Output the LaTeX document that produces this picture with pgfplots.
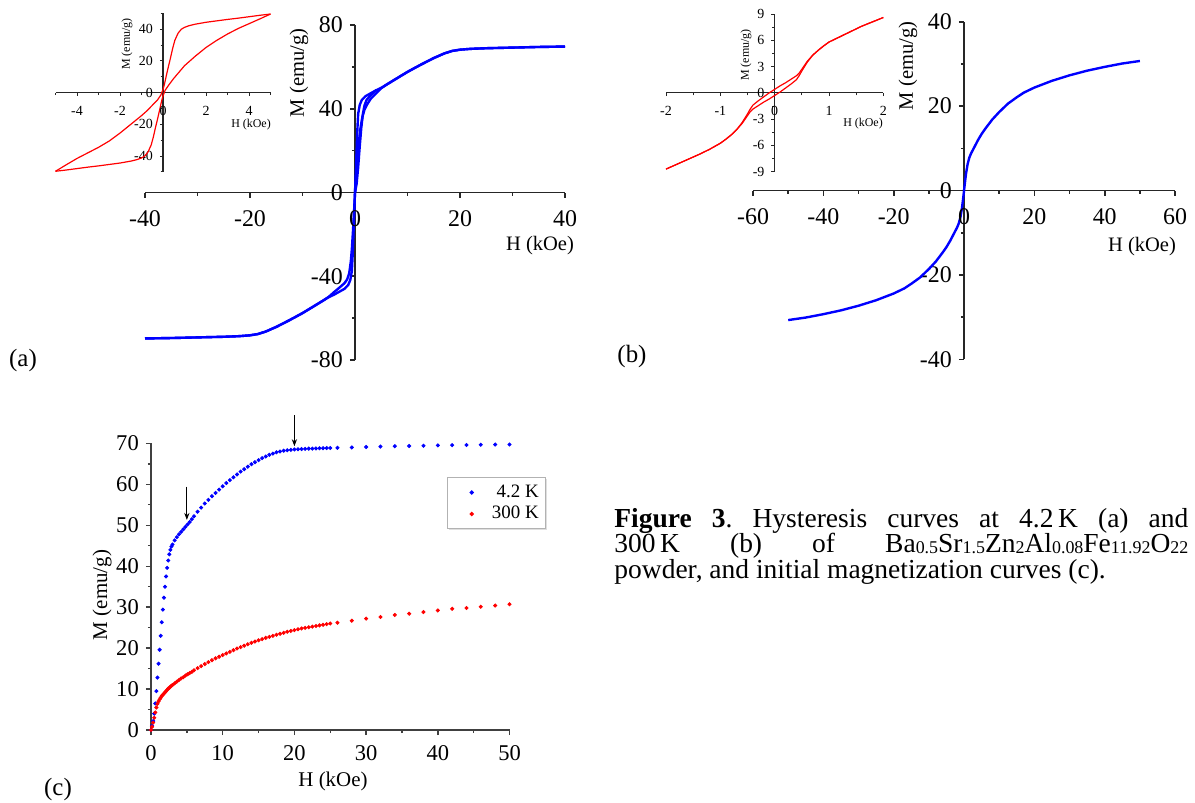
\documentclass[border=0pt]{standalone}
\usepackage{fontspec}
\setmainfont{Liberation Serif}
\usepackage{pgfplots}
\usepackage{pgfplotstable}
\pgfplotsset{compat=1.18}
\usetikzlibrary{arrows.meta,shadows}

\definecolor{loopblue}{RGB}{0,0,255}
\definecolor{loopred}{RGB}{255,0,0}

\newcommand{\fmain}{\fontsize{12}{13}\selectfont}
\newcommand{\flab}{\fontsize{10.3}{12}\selectfont}
\newcommand{\fins}{\fontsize{7}{8}\selectfont}
\newcommand{\finl}{\fontsize{6}{7}\selectfont}
\newcommand{\fc}{\fontsize{11.3}{12}\selectfont}
\newcommand{\fcl}{\fontsize{10.5}{12}\selectfont}
\newcommand{\sub}[1]{\raisebox{-0.12ex}[\height][0pt]{\fontsize{9}{10}\selectfont #1}}

% 4.2 K, full loop (a)
\pgfplotstableread{
H M
40 69.7
35 69.5
30 69.2
25 68.9
22 68.6
20 68.2
18.5 67.6
17 66.4
15 64.2
12.5 61.0
10 57.6
7.5 53.8
6 51.5
5 50.0
4 48.8
3 47.4
2 46.0
1.3 44.2
0.9 41.8
0.6 37.5
0.45 30
0.3 20
0.15 9.5
0 0
-0.2 -10
-0.4 -19
-0.6 -27
-0.8 -33
-1.1 -38.5
-1.5 -41.5
-2 -43.3
-3 -45.5
-4 -47.6
-5 -49.8
-6 -51.5
-7.5 -53.8
-10 -57.6
-12.5 -61.0
-15 -64.2
-17 -66.4
-18.5 -67.6
-20 -68.2
-22 -68.6
-25 -68.9
-30 -69.2
-35 -69.5
-40 -69.7
}\loopAdesc
\pgfplotstableread{
H M
-40 -69.7
-35 -69.5
-30 -69.2
-25 -68.9
-22 -68.6
-20 -68.2
-18.5 -67.6
-17 -66.4
-15 -64.2
-12.5 -61.0
-10 -57.6
-7.5 -53.8
-6 -51.5
-5 -50.0
-4 -48.8
-3 -47.4
-2 -46.0
-1.3 -44.2
-0.9 -41.8
-0.6 -37.5
-0.45 -30
-0.3 -20
-0.15 -9.5
0 0
0.2 8
0.4 15
0.7 23
1.0 30
1.4 36
1.8 39.5
2.3 42
3 44.8
4 47.3
5 49.8
6 51.5
7.5 53.8
10 57.6
12.5 61.0
15 64.2
17 66.4
18.5 67.6
20 68.2
22 68.6
25 68.9
30 69.2
35 69.5
40 69.7
}\loopAasc
\pgfplotstableread{
H M
0 0
0.3 4
0.6 12
0.9 22
1.2 31
1.5 37.5
1.8 41.5
2.2 44.2
3 46.5
4.1 49
}\initA

% 4.2 K, minor loop (inset a)
\pgfplotstableread{
H M
5 49.6
4.5 48.8
4 47.9
3.5 47.0
3 46.2
2.5 45.3
2 44.4
1.5 43.2
1.2 42.2
1 41.2
0.85 40.0
0.7 37.5
0.55 33
0.45 28
0.35 22
0.25 16.4
0.15 10.5
0.07 5.5
0 2
-0.1 -1.5
-0.25 -4.5
-0.5 -8
-0.75 -11.5
-1 -14.5
-1.5 -20
-2 -25.5
-2.5 -30.5
-3 -34.5
-3.5 -38
-4 -41.5
-4.5 -45.5
-5 -49.6
}\insAdesc
\pgfplotstableread{
H M
-5 -49.6
-4.5 -48.8
-4 -47.9
-3.5 -47.0
-3 -46.2
-2.5 -45.3
-2 -44.4
-1.5 -43.2
-1.2 -42.2
-1 -41.2
-0.85 -40.0
-0.7 -37.5
-0.55 -33
-0.45 -28
-0.35 -22
-0.25 -16.4
-0.15 -10.5
-0.07 -5.5
0 -2
0.1 1.5
0.25 4.5
0.5 9
0.75 13
1 17
1.5 23
2 28.5
2.5 33
3 37
3.5 40.5
4 43.5
4.5 46.5
5 49.6
}\insAasc

% 300 K loop (b)
\pgfplotstableread{
H M
-50 -30.7
-45 -30.1
-40 -29.3
-35 -28.4
-30 -27.3
-25 -26.0
-20 -24.4
-17 -23.2
-15 -22.1
-12.5 -20.6
-10 -18.6
-8 -16.8
-6 -14.6
-5 -13.4
-4 -12.0
-3 -10.4
-2 -8.8
-1.5 -7.8
-1 -6.2
-0.6 -4.2
-0.3 -2.2
0 0
0.3 2.2
0.6 4.2
1 6.2
1.5 7.8
2 8.8
3 10.4
4 12.0
5 13.4
6 14.6
8 16.8
10 18.6
12.5 20.6
15 22.1
17 23.2
20 24.4
25 26.0
30 27.3
35 28.4
40 29.3
45 30.1
50 30.7
}\loopB

\pgfplotstableread{
H M
2 8.6
1.8 8.1
1.6 7.6
1.4 7.0
1.2 6.4
1 5.8
0.9 5.35
0.8 4.85
0.7 4.3
0.6 3.6
0.5 2.7
0.45 2.25
0.4 1.95
0.3 1.55
0.2 1.15
0.1 0.8
0 0.4
-0.1 0.0
-0.2 -0.45
-0.3 -0.9
-0.4 -1.4
-0.45 -1.85
-0.5 -2.4
-0.6 -3.4
-0.7 -4.2
-0.8 -4.8
-0.9 -5.3
-1 -5.75
-1.2 -6.45
-1.4 -7.05
-1.6 -7.6
-1.8 -8.15
-2 -8.7
}\insBdesc
\pgfplotstableread{
H M
-2 -8.7
-1.8 -8.15
-1.6 -7.6
-1.4 -7.05
-1.2 -6.45
-1 -5.75
-0.9 -5.3
-0.8 -4.8
-0.7 -4.2
-0.6 -3.5
-0.5 -2.6
-0.45 -2.15
-0.4 -1.85
-0.3 -1.45
-0.2 -1.05
-0.1 -0.7
0 -0.3
0.1 0.1
0.2 0.55
0.3 1.0
0.4 1.5
0.45 1.95
0.5 2.5
0.6 3.5
0.7 4.3
0.8 4.85
0.9 5.35
1 5.8
1.2 6.4
1.4 7.0
1.6 7.6
1.8 8.1
2 8.6
}\insBasc

% initial magnetization curves (c)
\pgfplotstableread{
H M
0 0
0.15 1.0
0.3 2.2
0.45 4.0
0.6 6.5
0.75 9.5
0.9 12.8
1.05 16.2
1.2 19.6
1.35 23.0
1.5 26.3
1.65 29.4
1.8 32.3
1.95 35.0
2.1 37.5
2.25 39.6
2.4 41.4
2.55 42.9
2.7 44.0
2.85 44.8
3.0 45.3
3.3 46.3
3.6 47.1
3.9 47.8
4.2 48.4
4.5 49.0
4.8 49.6
5.1 50.2
5.4 50.8
5.7 51.5
6.0 52.2
6.5 53.3
7.0 54.3
7.5 55.3
8.0 56.2
8.5 57.1
9.0 57.9
9.5 58.7
10.0 59.5
10.5 60.3
11.0 61.0
11.5 61.7
12.0 62.4
12.5 63.1
13.0 63.7
13.5 64.3
14.0 64.9
14.5 65.4
15.0 65.9
15.5 66.4
16.0 66.8
16.5 67.2
17.0 67.5
17.5 67.8
18.0 68.0
18.5 68.2
19.0 68.3
19.5 68.4
20.0 68.5
20.5 68.55
21.0 68.6
21.5 68.65
22.0 68.7
22.5 68.7
23.0 68.75
23.5 68.8
24.0 68.8
24.5 68.85
25.0 68.85
26 68.9
28 69.0
30 69.1
32 69.2
34 69.3
36 69.35
38 69.4
40 69.5
42 69.55
44 69.6
46 69.65
48 69.7
50 69.7
}\initlow
\pgfplotstableread{
H M
0 0
0.15 0.8
0.3 1.8
0.45 3.0
0.6 4.3
0.75 5.5
0.9 6.4
1.05 7.0
1.2 7.5
1.35 7.9
1.5 8.3
1.65 8.6
1.8 8.9
1.95 9.2
2.1 9.5
2.25 9.8
2.4 10.1
2.55 10.3
2.7 10.6
2.85 10.8
3.0 11.0
3.3 11.4
3.6 11.8
3.9 12.2
4.2 12.6
4.5 12.9
4.8 13.3
5.1 13.6
5.4 13.9
5.7 14.2
6.0 14.6
6.5 15.1
7.0 15.6
7.5 16.1
8.0 16.6
8.5 17.05
9.0 17.5
9.5 17.9
10.0 18.3
10.5 18.7
11.0 19.1
11.5 19.5
12.0 19.9
12.5 20.25
13.0 20.6
13.5 20.95
14.0 21.3
14.5 21.6
15.0 21.9
15.5 22.2
16.0 22.5
16.5 22.75
17.0 23.0
17.5 23.25
18.0 23.5
18.5 23.75
19.0 24.0
19.5 24.2
20.0 24.4
20.5 24.6
21.0 24.8
21.5 24.95
22.0 25.1
22.5 25.25
23.0 25.4
23.5 25.55
24.0 25.7
24.5 25.85
25.0 26.0
26 26.2
28 26.7
30 27.2
32 27.6
34 28.1
36 28.4
38 28.8
40 29.2
42 29.6
44 29.8
46 30.1
48 30.4
50 30.7
}\inithigh

\pgfplotsset{
  midaxis/.style={
    scale only axis,
    axis lines=middle,
    axis line style={-, line width=0.8pt, black!85},
    every inner x axis line/.append style={-},
    every inner y axis line/.append style={-},
    tick style={black!85, line width=0.8pt},
    tick align=outside,
    major tick length=2.6bp,
    minor tick length=1.6bp,
    /pgf/number format/assume math mode=true,
    clip=false,
  },
  dotlegend/.style={
    legend image code/.code={\path (0cm,0cm) (0.72cm,0cm); \draw[##1] plot coordinates {(0.36cm,0cm)};},
  },
}

\begin{document}
\frenchspacing
\begin{tikzpicture}[x=0.5bp,y=-0.5bp]
\path[use as bounding box] (0,0) rectangle (1195,802);

% ---------- (a) main
\begin{axis}[midaxis,
  at={(72.5bp,-180bp)}, anchor=south west, width=210bp, height=167.5bp,
  xmin=-40, xmax=40, ymin=-80, ymax=80,
  xtick={-40,-20,0,20,40}, ytick={-80,-40,0,40,80},
  minor xtick={-30,-10,10,30}, minor ytick={-60,-20,20,60},
  tick label style={font=\fmain},
  xticklabel style={yshift=-3bp},
]
\addplot[loopblue, line width=1.2pt, line join=round] table[x=H,y=M] {\loopAdesc};
\addplot[loopblue, line width=1.2pt, line join=round] table[x=H,y=M] {\loopAasc};
\addplot[loopblue, line width=1.2pt, line join=round] table[x=H,y=M] {\initA};
\node[font=\fmain, anchor=east, xshift=-2.6bp] at (axis cs:0,0) {0};
\node[font=\fmain, anchor=north, yshift=-5.6bp] at (axis cs:0,0) {0};
\end{axis}
\node[rotate=90, font=\flab] at (299,73) {M (emu/g)};
\node[font=\flab] at (540,246) {H (kOe)};

% ---------- (a) inset
\begin{axis}[midaxis,
  at={(27.75bp,-85.95bp)}, anchor=south west, width=107.5bp, height=79.25bp,
  axis line style={line width=0.6pt}, tick style={line width=0.5pt},
  major tick length=1.6bp, minor tick length=1.2bp,
  xmin=-5, xmax=5, ymin=-50, ymax=50,
  xtick={-4,-2,0,2,4}, ytick={-40,-20,0,20,40},
  minor xtick={-5,-3,-1,1,3,5}, minor ytick={-50,-30,-10,10,30,50},
  tick label style={font=\fins},
  xticklabel style={yshift=-1.5bp},
]
\addplot[loopred, line width=0.6pt, line join=round] table[x=H,y=M] {\insAdesc};
\addplot[loopred, line width=0.6pt, line join=round] table[x=H,y=M] {\insAasc};
\node[font=\fins, anchor=east, xshift=-1.6bp] at (axis cs:0,0) {0};
\node[font=\fins, anchor=north, yshift=-3.1bp] at (axis cs:0,0) {0};
\end{axis}
\node[rotate=90, font=\finl] at (127,44) {M (emu/g)};
\node[font=\finl] at (251,125) {H (kOe)};

% ---------- (b) main
\begin{axis}[midaxis,
  at={(376.5bp,-179.65bp)}, anchor=south west, width=211bp, height=168.8bp,
  xmin=-60, xmax=60, ymin=-40, ymax=40,
  xtick={-60,-40,-20,0,20,40,60}, ytick={-40,-20,0,20,40},
  minor xtick={-50,-30,-10,10,30,50}, minor ytick={-30,-10,10,30},
  tick label style={font=\fmain},
  xticklabel style={yshift=-3bp},
]
\addplot[loopblue, line width=1.2pt, line join=round] table[x=H,y=M] {\loopB};
\node[font=\fmain, anchor=east, xshift=-2.6bp] at (axis cs:0,0) {0};
\node[font=\fmain, anchor=north, yshift=-5.6bp] at (axis cs:0,0) {0};
\end{axis}
\node[rotate=90, font=\flab] at (908,66) {M (emu/g)};
\node[font=\flab] at (1142,247) {H (kOe)};

% ---------- (b) inset
\begin{axis}[midaxis,
  at={(333bp,-85.85bp)}, anchor=south west, width=108.65bp, height=78.85bp,
  axis line style={line width=0.6pt}, tick style={line width=0.5pt},
  major tick length=1.6bp, minor tick length=1.2bp,
  xmin=-2, xmax=2, ymin=-9, ymax=9,
  xtick={-2,-1,0,1,2}, ytick={-9,-6,-3,0,3,6,9},
  minor xtick={-1.5,-0.5,0.5,1.5}, minor ytick={-7.5,-4.5,-1.5,1.5,4.5,7.5},
  tick label style={font=\fins},
  xticklabel style={yshift=-1.5bp},
]
\addplot[loopred, line width=0.6pt, line join=round] table[x=H,y=M] {\insBdesc};
\addplot[loopred, line width=0.6pt, line join=round] table[x=H,y=M] {\insBasc};
\node[font=\fins, anchor=east, xshift=-1.6bp] at (axis cs:0,0) {0};
\node[font=\fins, anchor=north, yshift=-3.1bp] at (axis cs:0,0) {0};
\end{axis}
\node[rotate=90, font=\finl] at (746,55) {M (emu/g)};
\node[font=\finl] at (863,124) {H (kOe)};

% ---------- (c)
\begin{axis}[
  scale only axis,
  at={(75.5bp,-365bp)}, anchor=south west, width=179.25bp, height=143.35bp,
  axis x line*=bottom, axis y line*=left,
  axis line style={line width=0.7pt, black!75},
  tick style={black!75, line width=0.7pt},
  tick align=outside,
  major tick length=2.6bp, minor tick length=1.6bp,
  xmin=0, xmax=50, ymin=0, ymax=70,
  xtick={0,10,...,50}, ytick={0,10,...,70},
  minor x tick num=1, minor y tick num=1,
  tick label style={font=\fc},
  xticklabel style={yshift=-1.5bp},
  /pgf/number format/assume math mode=true,
  clip=false,
  legend style={at={(0.826,0.882)}, anchor=north west, draw=black!30,
    line width=0.6pt, font=\fontsize{9.5}{11}\selectfont,
    inner xsep=1.5bp, inner ysep=1.5bp, row sep=-1bp,
    cells={anchor=east},
    drop shadow={shadow xshift=0.8bp, shadow yshift=-0.8bp, fill=black!25}},
]
\addplot[only marks, mark=*, mark size=0.8pt, color=loopblue, dotlegend] table[x=H,y=M] {\initlow};
\addlegendentry{\makebox[21bp][r]{4.2 K}}
\addplot[only marks, mark=*, mark size=0.8pt, color=loopred, dotlegend] table[x=H,y=M] {\inithigh};
\addlegendentry{\makebox[21bp][r]{300 K}}
\draw[black, line width=0.5pt, -{Stealth[length=3.5bp,width=2.6bp]}] (axis cs:5,59.4) -- (axis cs:5,51.3);
\draw[black, line width=0.5pt, -{Stealth[length=3.5bp,width=2.6bp]}] (axis cs:20,76.9) -- (axis cs:20,69.3);
\end{axis}
\node[rotate=90, font=\fcl] at (102,595) {M (emu/g)};
\node[font=\fcl] at (333,781) {H (kOe)};

% ---------- panel letters
\node[font=\fontsize{12.5}{14}\selectfont] at (23,361) {(a)};
\node[font=\fontsize{12.5}{14}\selectfont] at (632,357) {(b)};
\node[font=\fontsize{12.5}{14}\selectfont] at (58,789) {(c)};

% ---------- caption
\begin{scope}[every node/.style={font=\fontsize{13.8}{15}\selectfont, inner sep=0pt, anchor=base west}]
\node at (614,527) {\makebox[287bp][s]{\textbf{Figure 3}. Hysteresis curves at 4.2\,K (a) and}};
\node at (614,552) {\makebox[287bp][s]{300\,K (b) of Ba\sub{0.5}Sr\sub{1.5}Zn\sub{2}Al\sub{0.08}Fe\sub{11.92}O\sub{22}}};
\node at (614,578) {powder, and initial magnetization curves (c).};
\end{scope}
\end{tikzpicture}
\end{document}
